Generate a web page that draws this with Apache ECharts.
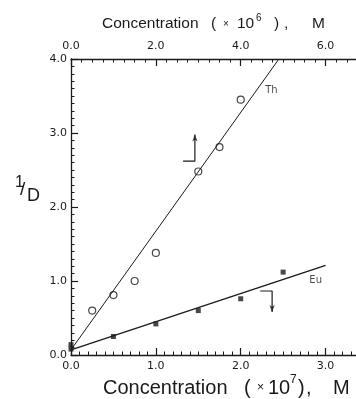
<!DOCTYPE html>
<html>
<head>
<meta charset="utf-8">
<script src="https://cdn.jsdelivr.net/npm/echarts@6/dist/echarts.min.js"></script>
<style>
  html, body { margin: 0; padding: 0; background: #fff; }
  #chart { width: 356px; height: 399px; }
</style>
</head>
<body>
<div id="chart"></div>
<script>
// Th: concentration read on the top axis (x 10^6 M)
const thConc = [0.5, 1.0, 1.5, 2.0, 3.0, 3.5, 4.0]
const thInvD = [0.6, 0.81, 1.0, 1.38, 2.48, 2.81, 3.45]
// Eu: concentration read on the bottom axis (x 10^7 M)
const euConc = [0, 0, 0.5, 1.0, 1.5, 2.0, 2.5]
const euInvD = [0.08, 0.14, 0.25, 0.42, 0.60, 0.76, 1.12]
// fitted lines
const thFit = [[0, 0.07], [4.9, 4.0]]
const euFit = [[0, 0.07], [3.0, 1.21]]
// axis pointer arrows (bottom axis units)
const thArrow = [[1.32, 2.62], [1.46, 2.62], [1.46, 2.98]]
const euArrow = [[2.23, 0.865], [2.37, 0.865], [2.37, 0.58]]
// series tags
const thTag = [2.23, 3.57]
const euTag = [2.75, 1.01]

const ink = '#1a1a1a'
const font = 'Liberation Sans'
const tickFont = 'DejaVu Sans'

const chart = echarts.init(document.getElementById('chart'))

const pair = (xs, ys) => xs.map((x, i) => [x, ys[i]])

// main axes: line, major ticks and labels
function mainAxis (extra, margin, showMax) {
  return Object.assign({
    type: 'value',
    axisLine: { show: true, onZero: false, lineStyle: { color: ink, width: 1.3 } },
    axisTick: { show: true, inside: true, length: 7, lineStyle: { color: ink, width: 1.2 } },
    splitLine: { show: false },
    axisLabel: {
      color: ink, fontFamily: tickFont, fontSize: 11, margin: margin,
      showMaxLabel: showMax,
      formatter: v => v.toFixed(1)
    }
  }, extra)
}

// overlay axes that only draw the small ticks
function minorAxis (extra) {
  return Object.assign({
    type: 'value',
    axisLine: { show: false, onZero: false },
    axisTick: { show: true, inside: true, length: 3.5, lineStyle: { color: ink, width: 1 } },
    splitLine: { show: false },
    axisLabel: { show: false }
  }, extra)
}

function txt (text, x, y, size, extra) {
  return {
    type: 'text', x: x, y: y, silent: true,
    style: Object.assign({
      text: text, fill: ink, fontFamily: font, fontSize: size,
      align: 'left', verticalAlign: 'middle'
    }, extra || {})
  }
}

chart.setOption({
  animation: false,
  grid: { left: 71, top: 59, right: -12, bottom: 44, containLabel: false, outerBoundsMode: 'none' },
  xAxis: [
    mainAxis({ position: 'bottom', min: 0, max: 3.5, interval: 1 }, 6, false),
    mainAxis({ position: 'top', min: 0, max: 7, interval: 2 }, 7, false),
    minorAxis({ position: 'bottom', min: 0, max: 3.5, interval: 0.1 }),
    minorAxis({ position: 'top', min: 0, max: 7, interval: 0.25 })
  ],
  yAxis: [
    mainAxis({ position: 'left', min: 0, max: 4, interval: 1 }, 4, true),
    minorAxis({ position: 'left', min: 0, max: 4, interval: 0.1 })
  ],
  series: [
    {
      name: 'Th fit', type: 'line', xAxisIndex: 1, data: thFit,
      symbol: 'none', lineStyle: { color: ink, width: 1 }
    },
    {
      name: 'Eu fit', type: 'line', xAxisIndex: 0, data: euFit,
      symbol: 'none', lineStyle: { color: ink, width: 1.3 }
    },
    {
      name: 'Th', type: 'scatter', xAxisIndex: 1, data: pair(thConc, thInvD),
      symbol: 'circle', symbolSize: 7,
      itemStyle: { color: '#fff', borderColor: ink, borderWidth: 1.2 }
    },
    {
      name: 'Eu', type: 'scatter', xAxisIndex: 0, data: pair(euConc, euInvD),
      symbol: 'rect', symbolSize: 5,
      itemStyle: { color: ink }
    },
    {
      type: 'line', xAxisIndex: 0, data: thArrow, symbol: 'none',
      lineStyle: { color: ink, width: 1.2 }
    },
    {
      type: 'line', xAxisIndex: 0, data: euArrow, symbol: 'none',
      lineStyle: { color: ink, width: 1.2 }
    },
    {
      type: 'scatter', xAxisIndex: 0,
      data: [thArrow[2]], symbol: 'arrow', symbolSize: [4, 7],
      itemStyle: { color: ink }
    },
    {
      type: 'scatter', xAxisIndex: 0,
      data: [euArrow[2]], symbol: 'arrow', symbolSize: [4, 7], symbolRotate: 180,
      itemStyle: { color: ink }
    },
    {
      type: 'scatter', xAxisIndex: 0, symbolSize: 0, data: [thTag],
      label: { show: true, formatter: 'Th', position: 'right', color: ink, fontFamily: tickFont, fontSize: 10 }
    },
    {
      type: 'scatter', xAxisIndex: 0, symbolSize: 0, data: [euTag],
      label: { show: true, formatter: 'Eu', position: 'right', color: ink, fontFamily: tickFont, fontSize: 10 }
    }
  ],
  graphic: [
    // top title
    txt('Concentration', 102, 24, 15.5),
    txt('(', 211, 24, 15.5),
    txt('×', 223, 24, 10),
    txt('10', 237, 24, 15.5),
    txt('6', 256, 18, 10),
    txt(')', 274, 24, 15.5),
    txt(',', 284, 24, 15.5),
    txt('M', 312, 24, 15.5),
    // bottom title
    txt('Concentration', 103, 388, 20),
    txt('(', 244, 388, 20),
    txt('×', 257, 388, 12),
    txt('10', 268, 388, 20),
    txt('7', 290, 380, 12),
    txt(')', 298, 388, 20),
    txt(',', 306, 388, 20),
    txt('M', 333, 388, 20),
    // y title
    txt('1', 15, 183, 16),
    txt('/', 20, 190, 19),
    txt('D', 27, 196, 18)
  ]
})
</script>
</body>
</html>
